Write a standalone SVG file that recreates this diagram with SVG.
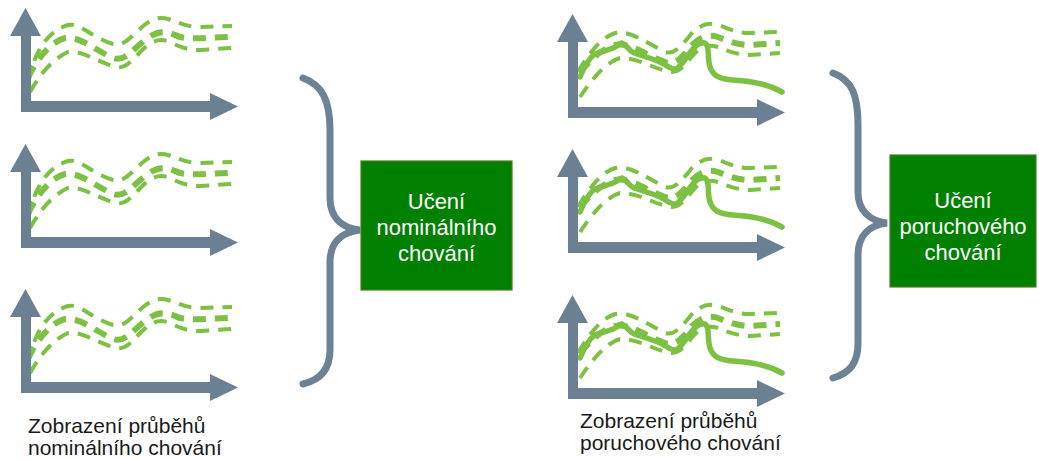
<svg xmlns="http://www.w3.org/2000/svg" xmlns:xlink="http://www.w3.org/1999/xlink" width="1039" height="459" viewBox="0 0 1039 459">
  <style>
    .axis { fill: #6c8094; }
    .dash { fill: none; stroke: #7cc142; stroke-width: 4; stroke-dasharray: 13 9; stroke-linecap: butt; }
    .dash-thick { fill: none; stroke: #7cc142; stroke-width: 6; stroke-dasharray: 13 9; }
    .solid { fill: none; stroke: #7cc142; stroke-width: 5.5; stroke-linecap: round; stroke-linejoin: round; }
    .brace { fill: none; stroke: #6e8296; stroke-width: 7; stroke-linecap: round; }
    .box { fill: #008000; stroke: #4d7d24; stroke-width: 1.2; }
    .box-text { font-family: "Liberation Sans", Arial, sans-serif; font-size: 22px; fill: #ffffff; text-anchor: middle; }
    .caption { font-family: "Liberation Sans", Arial, sans-serif; font-size: 21px; fill: #1a1a1a; }
  </style>
  <defs>
    <!-- pair of axis arrows, drawn for the top-left chart frame -->
    <g id="axes">
      <rect class="axis" x="21" y="34" width="10" height="78"/>
      <polygon class="axis" points="10,36 25.5,8 41,36"/>
      <rect class="axis" x="21" y="101" width="190" height="11"/>
      <polygon class="axis" points="210,93 238,106.5 210,120"/>
    </g>
    <!-- three dashed traces of nominal runs -->
    <g id="nominal-traces">
      <path class="dash" d="M28,82 C34,55 45,32 68,25 C80,22 92,38 113,44 C125,47 132,35 142,27 C150,20 158,16 168,19 C178,22 185,27 200,27 L232,26"/>
      <path class="dash-thick" d="M28,78 C36,60 50,42 65,38 C80,36 95,50 113,58 C125,62 132,50 145,40 C155,32 163,30 175,35 C185,40 195,38 232,37"/>
      <path class="dash" d="M30,92 C38,78 50,60 68,52 C80,50 95,60 115,67 C128,70 135,55 148,45 C155,40 162,38 172,43 C180,47 188,50 200,50 L232,48"/>
    </g>
    <!-- dashed nominal envelope plus one solid faulty run -->
    <g id="fault-traces">
      <path class="dash" d="M578,72 C588,55 600,38 615,33 C630,30 645,42 665,52 C675,55 682,45 692,33 C700,25 708,22 718,25 C728,28 735,33 750,33 L780,32"/>
      <path class="dash-thick" d="M580,72 C590,60 600,50 615,45 C630,42 645,55 665,62 C676,66 684,55 692,45 C700,37 708,34 718,37 C728,41 738,45 750,45 L780,43"/>
      <path class="dash" d="M580,97 C590,82 605,62 620,58 C640,58 655,70 672,72 C682,72 688,60 695,53 C702,46 708,44 718,47 C728,51 738,55 750,55 L780,53"/>
      <path class="solid" d="M580,77 C585,65 590,57 595,54 C602,51 610,50 615,47 C618,45 620,43 622,43 C627,45 629,51 634,53 C640,55 650,58 660,62 C667,65 671,70 676,69 C681,67 686,57 692,50 C696,45 700,42 705,43 C710,46 707,58 710,67 C713,75 718,79 733,80 C752,81 768,84 782,92"/>
    </g>
  </defs>

  <!-- nominal runs column -->
  <g id="chart-nominal-1">
    <use xlink:href="#nominal-traces"/>
    <use xlink:href="#axes"/>
  </g>
  <g id="chart-nominal-2" transform="translate(0,136)">
    <use xlink:href="#nominal-traces"/>
    <use xlink:href="#axes"/>
  </g>
  <g id="chart-nominal-3" transform="translate(0,281)">
    <use xlink:href="#nominal-traces"/>
    <use xlink:href="#axes"/>
  </g>

  <!-- faulty runs column -->
  <g id="chart-fault-1">
    <use xlink:href="#fault-traces"/>
    <use xlink:href="#axes" transform="translate(547,6)"/>
  </g>
  <g id="chart-fault-2" transform="translate(0,135)">
    <use xlink:href="#fault-traces"/>
    <use xlink:href="#axes" transform="translate(547,6)"/>
  </g>
  <g id="chart-fault-3" transform="translate(0,281)">
    <use xlink:href="#fault-traces"/>
    <use xlink:href="#axes" transform="translate(547,6)"/>
  </g>

  <!-- braces gathering each column into its learning block -->
  <g id="connectors">
    <path class="brace" d="M303,78 C322,85 330,100 330,130 L330,198 C330,218 342,228 360,230 C342,232 330,242 330,262 L330,350 C330,370 320,380 303,384"/>
    <path class="brace" d="M833,73 C852,80 858,95 858,125 L858,192 C858,211 870,221 887,223 C870,225 858,235 858,255 L858,343 C858,363 850,373 833,378"/>
  </g>

  <g id="learn-nominal">
    <rect class="box" x="361" y="161" width="151" height="129"/>
    <text class="box-text" x="436.5" y="209">Učení</text>
    <text class="box-text" x="436.5" y="235">nominálního</text>
    <text class="box-text" x="436.5" y="261">chování</text>
  </g>

  <g id="learn-fault">
    <rect class="box" x="890" y="155" width="146" height="132"/>
    <text class="box-text" x="963" y="208">Učení</text>
    <text class="box-text" x="963" y="234">poruchového</text>
    <text class="box-text" x="963" y="260">chování</text>
  </g>

  <g id="caption-nominal">
    <text class="caption" x="28" y="433">Zobrazení průběhů</text>
    <text class="caption" x="28" y="455">nominálního chování</text>
  </g>
  <g id="caption-fault">
    <text class="caption" x="580" y="428">Zobrazení průběhů</text>
    <text class="caption" x="580" y="450">poruchového chování</text>
  </g>
</svg>
